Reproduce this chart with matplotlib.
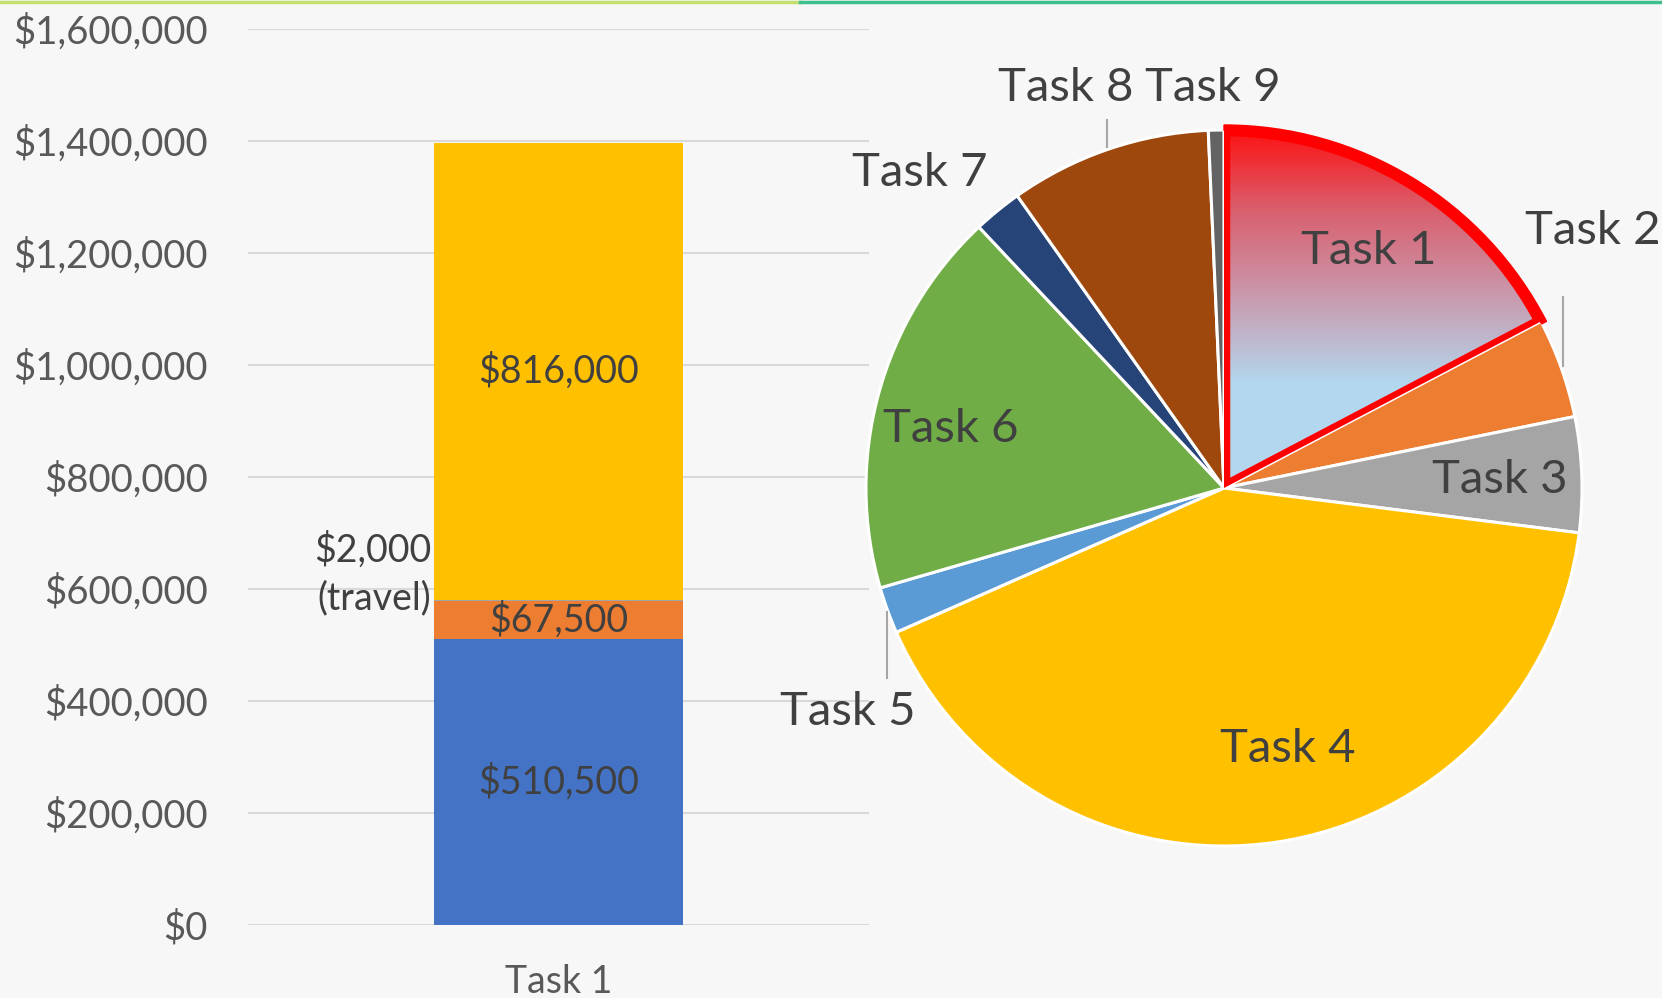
# stacked bar of Task 1 budget next to a pie of all tasks
import numpy as np
import matplotlib.pyplot as plt
from matplotlib.patches import Wedge
from matplotlib.colors import LinearSegmentedColormap

plt.rcParams['font.family'] = ['Lato', 'DejaVu Sans']

# data
bar_task = 'Task 1'
bar_parts = ['labor', 'other', 'travel', 'subcontract']
bar_values = [510500, 67500, 2000, 816000]
bar_colors = ['#4472c4', '#ed7d31', '#a5a5a5', '#ffc000']
bar_yticks = [0, 200000, 400000, 600000, 800000, 1000000, 1200000, 1400000, 1600000]

pie_labels = ['Task 1', 'Task 2', 'Task 3', 'Task 4', 'Task 5',
              'Task 6', 'Task 7', 'Task 8', 'Task 9']
pie_values = [17.3, 4.5, 5.2, 41.4, 2.1, 17.5, 2.2, 9.1, 0.7]
pie_colors = ['#e06070', '#ed7d31', '#a5a5a5', '#ffc000', '#5b9bd5',
              '#70ad47', '#264478', '#9e480e', '#636363']

W, H = 1662, 998
bg = '#f7f7f7'
txt = '#404040'
tick_col = '#595959'

fig = plt.figure(figsize=(W / 100, H / 100), dpi=100, facecolor=bg)

# top accent line
fig.add_artist(plt.Line2D([0, 800 / W], [1 - 1.5 / H] * 2, color='#c3df6e', lw=2.5,
                          transform=fig.transFigure))
fig.add_artist(plt.Line2D([800 / W, 1], [1 - 1.5 / H] * 2, color='#3fbf8c', lw=2.5,
                          transform=fig.transFigure))

# ---- bar chart ----
x0, x1 = 248, 869
y0, y1 = 925, 28.6
ax = fig.add_axes([x0 / W, 1 - y0 / H, (x1 - x0) / W, (y0 - y1) / H])
ax.set_facecolor('none')
bottom = 0
for v, c in zip(bar_values, bar_colors):
    ax.bar(0.5, v, width=0.401, bottom=bottom, color=c, zorder=3)
    bottom += v
ax.set_xlim(0, 1)
ax.set_ylim(0, 1600000)
ax.set_yticks(bar_yticks)
ax.set_yticklabels(['${:,}'.format(t) for t in bar_yticks])
ax.set_xticks([0.5])
ax.set_xticklabels([bar_task])
ax.tick_params(axis='y', length=0, pad=29, labelsize=27.5, labelcolor=tick_col)
ax.tick_params(axis='x', length=0, pad=28, labelsize=27, labelcolor=tick_col)
ax.yaxis.grid(True, color='#d9d9d9', lw=1.5, zorder=0)
for s in ax.spines.values():
    s.set_visible(False)

# data labels
cum = np.cumsum([0] + bar_values)
for i in [0, 1, 3]:
    ax.text(0.5, (cum[i] + cum[i + 1]) / 2, '${:,}'.format(bar_values[i]),
            ha='center', va='center', fontsize=27, color=txt, zorder=4)
ax.annotate('${:,}\n(travel)'.format(bar_values[2]), xy=(0.5 - 0.401 / 2, cum[3]),
            xytext=(-2, 19), textcoords='offset points', ha='right', va='center',
            fontsize=27, color=txt, linespacing=1.4)

# ---- pie chart (pixel coords, y up) ----
pax = fig.add_axes([0, 0, 1, 1])
cx, cy, r = 1224, H - 488, 358
wedges, _ = pax.pie(pie_values, colors=pie_colors, startangle=90, counterclock=False,
                    center=(cx, cy), radius=r, frame=True,
                    wedgeprops=dict(edgecolor='white', linewidth=2.2))
pax.set_xlim(0, W)
pax.set_ylim(0, H)
pax.axis('off')
pax.set_facecolor('none')

# gradient fill for Task 1: red at top fading to light blue
w1 = wedges[0]
w1.set_facecolor('none')
grad = LinearSegmentedColormap.from_list('g', ['#ff0d0d', '#d9606f', '#c99aae', '#b3d7ee'])
arr = np.concatenate([np.linspace(0, 1, 200), np.ones(80)]).reshape(-1, 1)
im = pax.imshow(arr, cmap=grad, extent=(cx, cx + r, cy, cy + r + 6),
                aspect='auto', zorder=0.5, vmin=0, vmax=1)
im.set_clip_path(w1)
pax.set_xlim(0, W)
pax.set_ylim(0, H)

# red outline for Task 1
t1, t2 = w1.theta1, w1.theta2
red = Wedge((cx, cy), r, t1, t2, fill=False, edgecolor='#ff0000', lw=9,
            joinstyle='round', zorder=3)
pax.add_patch(red)
red.set_clip_path(Wedge((cx, cy), r, t1, t2, transform=pax.transData))
pax.add_patch(Wedge((cx, cy), r + 5, t1 - 0.4, t2, width=5.5, color='#ff0000', zorder=3))

# labels
label_pos = {'Task 1': (1369, 251), 'Task 2': (1593, 231), 'Task 3': (1500, 480),
             'Task 4': (1288, 749), 'Task 5': (848, 712), 'Task 6': (951, 429),
             'Task 7': (920, 173), 'Task 8': (1066, 88), 'Task 9': (1213, 88)}
for lab in pie_labels:
    px, py = label_pos[lab]
    pax.text(px, H - py, lab, ha='center', va='center', fontsize=34, color=txt, zorder=5)

# leader lines
for lx, ya, yb in [(1563, 297, 366), (887, 612, 678), (1107, 120, 147)]:
    pax.plot([lx, lx], [H - ya, H - yb], color='#a6a6a6', lw=1.5, zorder=2)

fig.savefig('out.png', dpi=100, facecolor=bg)
